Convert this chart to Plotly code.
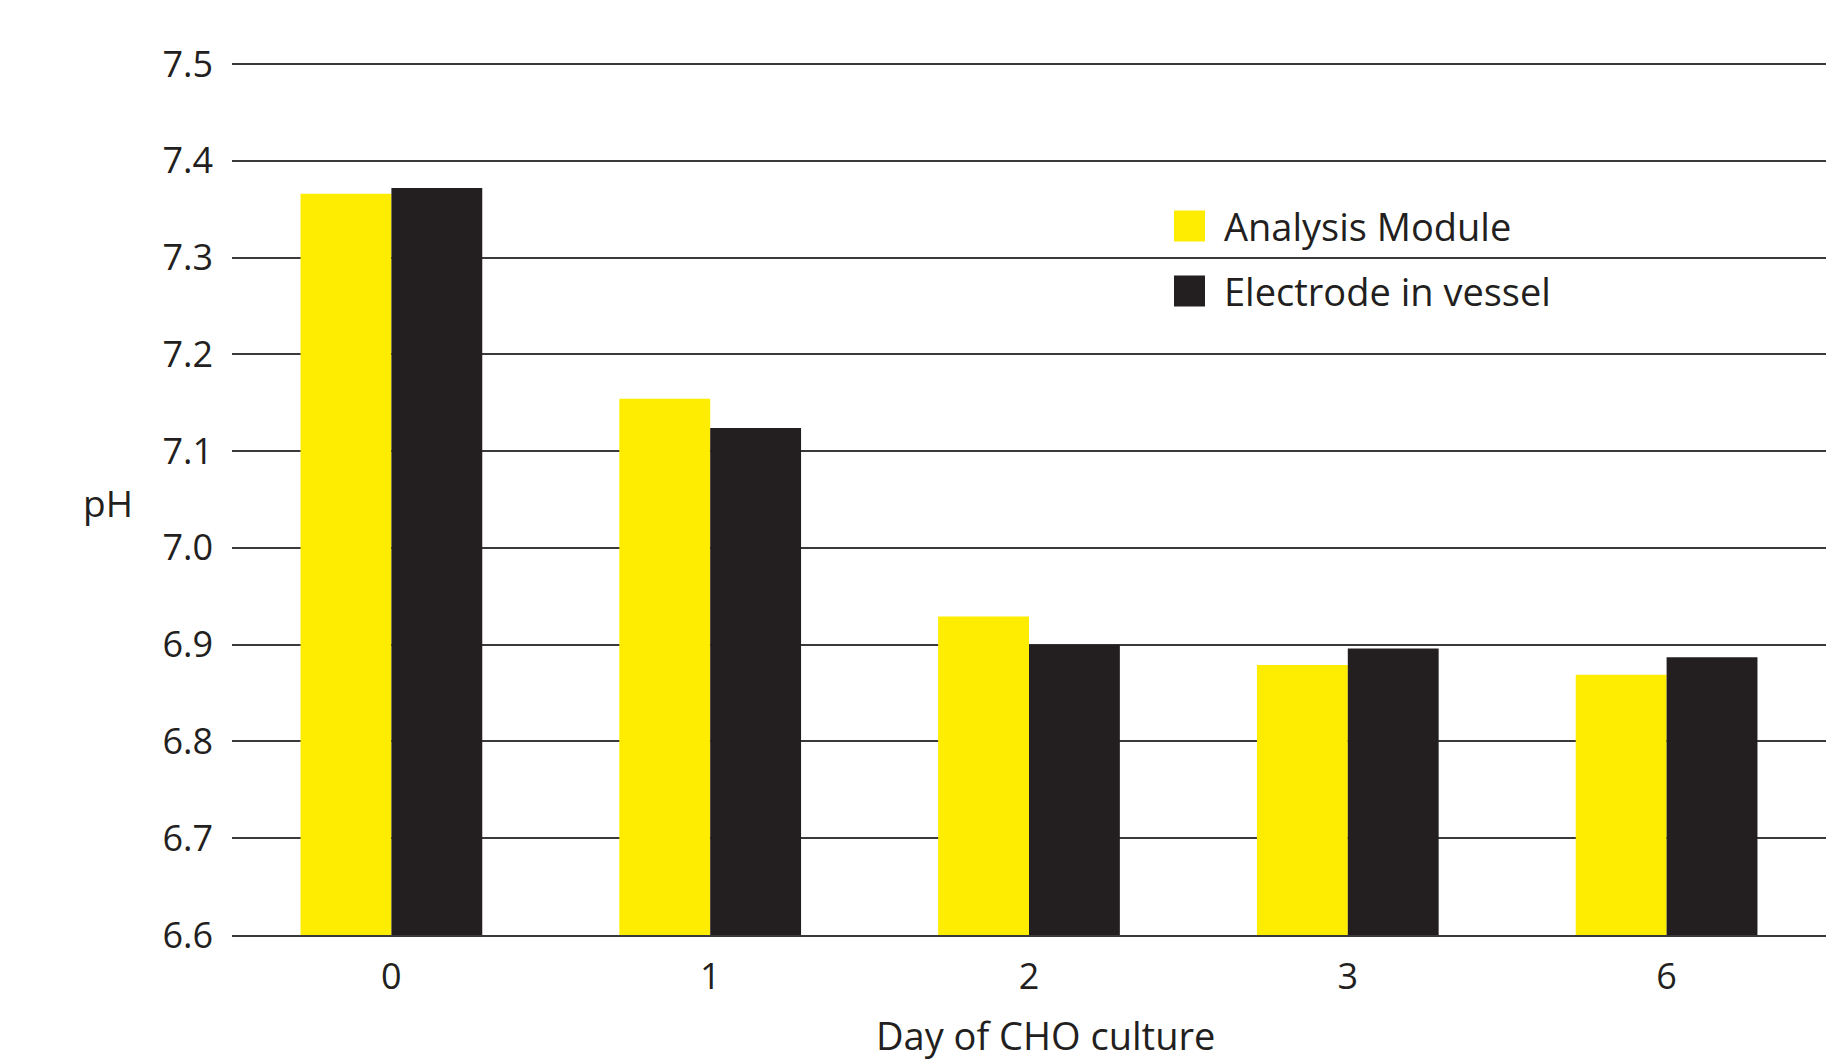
import plotly.graph_objects as go

days = ["0", "1", "2", "3", "6"]
analysis_module = [7.366, 7.154, 6.929, 6.879, 6.869]
electrode_in_vessel = [7.372, 7.124, 6.900, 6.896, 6.887]
y_ticks = [6.6, 6.7, 6.8, 6.9, 7.0, 7.1, 7.2, 7.3, 7.4, 7.5]

YELLOW = "#FEED00"
BLACK = "#231F20"
TEXT = "#231F20"
GRID = "#3a3a3a"
FONT = "'Open Sans', Lato, sans-serif"

fig = go.Figure()
fig.add_trace(go.Bar(x=days, y=analysis_module, name="Analysis Module",
                     marker=dict(color=YELLOW, line=dict(width=0))))
fig.add_trace(go.Bar(x=days, y=electrode_in_vessel, name="Electrode in vessel",
                     marker=dict(color=BLACK, line=dict(width=0))))

W, H = 1826, 1060
PAD = 3  # keep top gridline slightly inside the plot so it is drawn
ml, mr, mt, mb = 232, 0, 64 - PAD, 125
pw, ph = W - ml - mr, H - mt - mb
per_px = 0.9 / (ph - PAD)
y_range = [6.6, 7.5 + PAD * per_px]

def px(x):
    return (x - ml) / pw

def py(y):
    return 1 - (y - mt) / ph

legend_items = [("Analysis Module", YELLOW, 226), ("Electrode in vessel", BLACK, 291)]
shapes = []
annotations = []
for label, color, yc in legend_items:
    shapes.append(dict(type="rect", xref="paper", yref="paper",
                       x0=px(1174), x1=px(1205), y0=py(yc + 15.5), y1=py(yc - 15.5),
                       fillcolor=color, line=dict(width=0), layer="above"))
    annotations.append(dict(text=label, xref="paper", yref="paper",
                            x=px(1222), y=py(yc), xanchor="left", yanchor="middle",
                            showarrow=False, font=dict(family=FONT, size=38, color=TEXT)))

annotations.append(dict(text="pH", xref="paper", yref="paper", x=px(108), y=py(502),
                        xanchor="center", yanchor="middle", showarrow=False,
                        font=dict(family=FONT, size=37, color=TEXT)))
annotations.append(dict(text="Day of CHO culture", xref="paper", yref="paper",
                        x=px(1045), y=py(1035), xanchor="center", yanchor="middle",
                        showarrow=False, font=dict(family=FONT, size=38, color=TEXT)))

fig.update_layout(
    width=W, height=H,
    margin=dict(l=ml, r=mr, t=mt, b=mb, pad=0),
    paper_bgcolor="white", plot_bgcolor="white",
    barmode="group", bargap=0.43, bargroupgap=0,
    showlegend=False,
    font=dict(family=FONT, size=36, color=TEXT),
    shapes=shapes, annotations=annotations,
    xaxis=dict(type="category", showgrid=False, ticks="", showline=True,
               linecolor=GRID, linewidth=2, ticklabelstandoff=9,
               tickfont=dict(family=FONT, size=36, color=TEXT)),
    yaxis=dict(range=y_range, tickvals=y_ticks, ticktext=[f"{v:.1f}" for v in y_ticks],
               showgrid=True, gridcolor=GRID, gridwidth=2, zeroline=False,
               showline=False, ticks="", ticklabelstandoff=18,
               tickfont=dict(family=FONT, size=36, color=TEXT)),
)

fig.write_html(
    "out.html",
    config={"displayModeBar": False},
    post_script="document.body.style.margin='0px';document.documentElement.style.overflow='hidden';",
)
